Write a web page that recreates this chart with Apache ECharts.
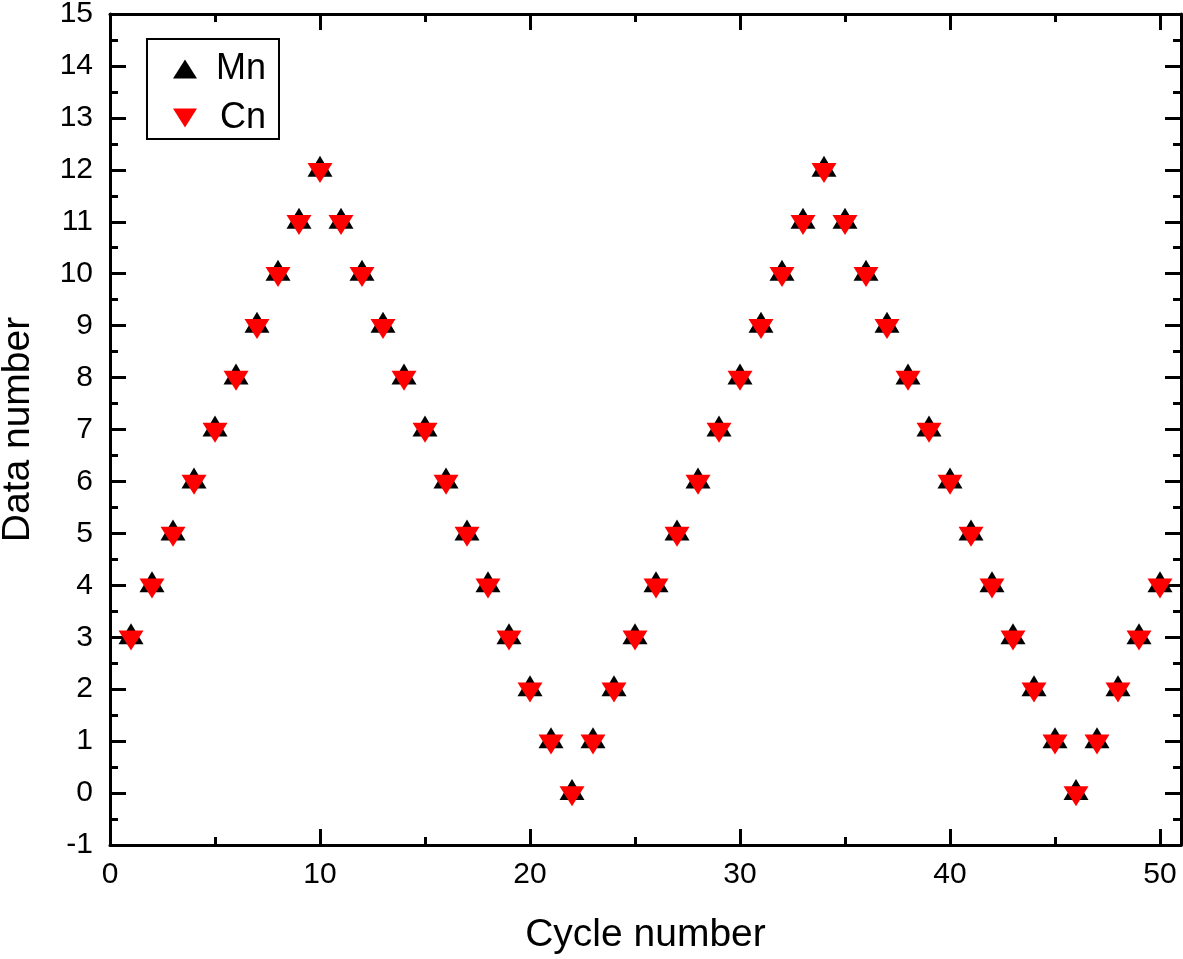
<!DOCTYPE html>
<html>
<head>
<meta charset="utf-8">
<script src="https://cdn.jsdelivr.net/npm/echarts@6/dist/echarts.min.js"></script>
<style>
html,body{margin:0;padding:0;background:#fff;}
#chart{width:1183px;height:959px;}
</style>
</head>
<body>
<div id="chart"></div>
<script>
var cycles = [1,2,3,4,5,6,7,8,9,10,11,12,13,14,15,16,17,18,19,20,21,22,23,24,25,26,27,28,29,30,31,32,33,34,35,36,37,38,39,40,41,42,43,44,45,46,47,48,49,50];
var mnValues = [3,4,5,6,7,8,9,10,11,12,11,10,9,8,7,6,5,4,3,2,1,0,1,2,3,4,5,6,7,8,9,10,11,12,11,10,9,8,7,6,5,4,3,2,1,0,1,2,3,4];
var cnValues = [3,4,5,6,7,8,9,10,11,12,11,10,9,8,7,6,5,4,3,2,1,0,1,2,3,4,5,6,7,8,9,10,11,12,11,10,9,8,7,6,5,4,3,2,1,0,1,2,3,4];
var seriesNames = ['Mn', 'Cn'];
var xTitle = 'Cycle number';
var yTitle = 'Data number';

var FONT = '"Liberation Sans", Arial, Helvetica, sans-serif';
function pairs(xs, ys){ return xs.map(function(x,i){ return [x, ys[i]]; }); }

var axisLineStyle = {show:true, onZero:false, lineStyle:{color:'#000', width:3}};
var tickStyle = {show:true, inside:true, length:16, lineStyle:{color:'#000', width:3}};
var minorStyle = {show:true, splitNumber:2, length:8, lineStyle:{color:'#000', width:3}};
var labelStyle = {color:'#000', fontSize:30, fontFamily:FONT};

var chart = echarts.init(document.getElementById('chart'), null, {renderer:'canvas'});
chart.setOption({
  backgroundColor:'#fff',
  animation:false,
  grid:{left:110, right:2, top:14, bottom:114, containLabel:false, outerBoundsMode:'none'},
  legend:{
    orient:'vertical', left:147, top:39,
    data:seriesNames,
    itemWidth:24, itemHeight:19, itemGap:13,
    symbolKeepAspect:false,
    padding:[12, 13, 3, 26],
    borderColor:'#000', borderWidth:2,
    backgroundColor:'#fff',
    formatter:function(n){ return '{r|' + n + '}'; },
    textStyle:{color:'#000', fontSize:36, fontFamily:FONT,
      rich:{r:{width:64, align:'right', fontSize:36, fontFamily:FONT, color:'#000'}}}
  },
  xAxis:[{
    type:'value', min:0, max:51, interval:10, position:'bottom',
    name:xTitle, nameLocation:'middle', nameGap:71,
    nameTextStyle:{color:'#000', fontSize:39, fontFamily:FONT},
    axisLine:axisLineStyle, axisTick:tickStyle, minorTick:minorStyle,
    splitLine:{show:false},
    axisLabel:Object.assign({margin:15, showMaxLabel:false,
      formatter:function(v){ return v % 10 === 0 ? String(v) : ''; }}, labelStyle)
  },{
    type:'value', min:0, max:51, interval:10, position:'top',
    axisLine:axisLineStyle, axisTick:tickStyle, minorTick:minorStyle,
    splitLine:{show:false}, axisLabel:{show:false}
  }],
  yAxis:[{
    type:'value', min:-1, max:15, interval:1, position:'left',
    name:yTitle, nameLocation:'middle', nameGap:72,
    nameTextStyle:{color:'#000', fontSize:39, fontFamily:FONT},
    axisLine:axisLineStyle, axisTick:tickStyle, minorTick:minorStyle,
    splitLine:{show:false},
    axisLabel:Object.assign({margin:17}, labelStyle)
  },{
    type:'value', min:-1, max:15, interval:1, position:'right',
    axisLine:axisLineStyle, axisTick:tickStyle, minorTick:minorStyle,
    splitLine:{show:false}, axisLabel:{show:false}
  }],
  series:[{
    name:seriesNames[0], type:'scatter',
    xAxisIndex:0, yAxisIndex:0,
    symbol:'path://M1,0L2,2L0,2Z', symbolSize:[25,21], symbolOffset:[0,-3.5],
    symbolKeepAspect:false,
    itemStyle:{color:'#000', opacity:1},
    data:pairs(cycles, mnValues)
  },{
    name:seriesNames[1], type:'scatter',
    xAxisIndex:0, yAxisIndex:0,
    symbol:'path://M0,0L2,0L1,2Z', symbolSize:[25,20], symbolOffset:[0,3.3],
    symbolKeepAspect:false,
    itemStyle:{color:'#ff0000', opacity:1},
    data:pairs(cycles, cnValues)
  }]
});
</script>
</body>
</html>
